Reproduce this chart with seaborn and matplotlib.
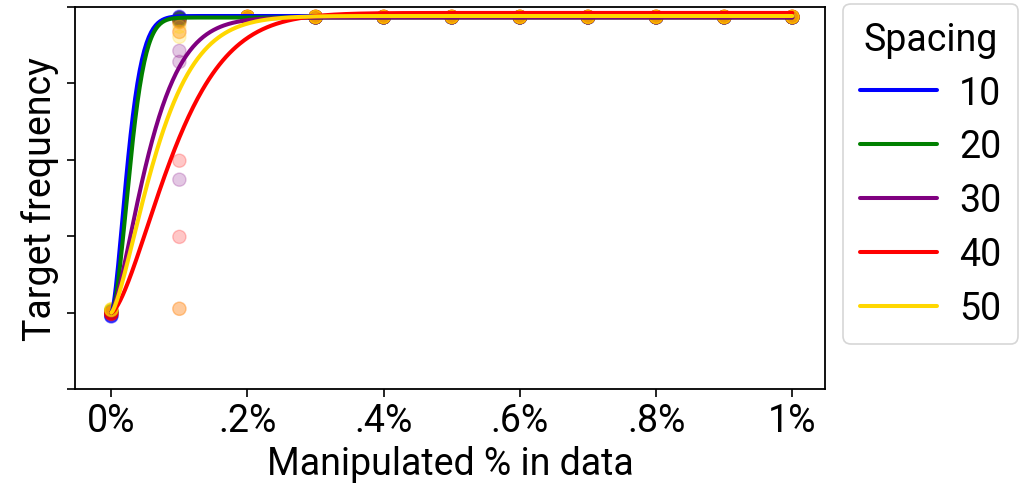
import numpy as np
import pandas as pd
import matplotlib
matplotlib.use("Agg")
import matplotlib.pyplot as plt
import seaborn as sns

sns.set_theme(style="ticks")
plt.rcParams["font.family"] = ["Roboto", "DejaVu Sans"]
plt.rcParams["text.color"] = "black"
plt.rcParams["axes.labelcolor"] = "black"
plt.rcParams["xtick.color"] = "black"
plt.rcParams["ytick.color"] = "black"

# Spacing groups and their colours
spacings = [10, 20, 30, 40, 50]
colors = ["#0000ff", "#008000", "#800080", "#ff0000", "#ffd700"]

# Manipulated fraction (in %) at which runs were evaluated
fractions = [0.0, 0.1, 0.2, 0.3, 0.4, 0.5, 0.6, 0.7, 0.8, 0.9, 1.0]

# Observed target frequency for five runs per spacing
runs_at_zero = {
    10: [-0.012, -0.010, -0.008, -0.010, -0.012],
    20: [0.005, 0.004, 0.006, 0.005, 0.004],
    30: [0.002, 0.000, 0.001, 0.002, 0.000],
    40: [-0.004, -0.002, -0.003, -0.004, -0.002],
    50: [0.010, 0.008, 0.012, 0.010, 0.009],
}
runs_at_tenth = {
    10: [0.968, 0.965, 0.962, 0.966, 0.964],
    20: [0.960, 0.958, 0.963, 0.955, 0.961],
    30: [0.965, 0.954, 0.856, 0.820, 0.435],
    40: [0.950, 0.918, 0.497, 0.248, 0.013],
    50: [0.918, 0.902, 0.935, 0.013, 0.950],
}
plateau = {10: 0.966, 20: 0.966, 30: 0.966, 40: 0.967, 50: 0.967}

# Fitted saturation curves: top * (1 - exp(-(x / scale) ** shape))
fit_top = [0.970, 0.965, 0.965, 0.980, 0.970]
fit_scale = [0.030, 0.034, 0.066, 0.109, 0.079]
fit_shape = [1.6, 1.8, 1.4, 1.5, 1.4]

xticks = [0.0, 0.2, 0.4, 0.6, 0.8, 1.0]
xticklabels = ["0%", ".2%", ".4%", ".6%", ".8%", "1%"]
yticks = [-0.25, 0.0, 0.25, 0.5, 0.75, 1.0]

# Long-form tables for seaborn
point_rows = []
for sp in spacings:
    for frac in fractions:
        if frac == 0.0:
            vals = runs_at_zero[sp]
        elif frac == 0.1:
            vals = runs_at_tenth[sp]
        else:
            vals = [plateau[sp]] * 5
        for v in vals:
            point_rows.append({"frac": frac, "freq": v, "Spacing": str(sp)})
points = pd.DataFrame(point_rows)

grid = np.linspace(0.0, 1.0, 600)
curve_rows = []
for sp, top, scale, shape in zip(spacings, fit_top, fit_scale, fit_shape):
    fitted = top * (1.0 - np.exp(-(grid / scale) ** shape))
    curve_rows.append(pd.DataFrame({"frac": grid, "freq": fitted, "Spacing": str(sp)}))
curves = pd.concat(curve_rows, ignore_index=True)

palette = dict(zip([str(s) for s in spacings], colors))

FS = 27

fig, ax = plt.subplots(figsize=(10.30, 4.89), dpi=100)
fig.subplots_adjust(left=0.073, right=0.801, top=0.984, bottom=0.202)

sns.scatterplot(data=points, x="frac", y="freq", hue="Spacing", palette=palette,
                alpha=0.22, s=90, edgecolor="face", linewidth=1.0,
                legend=False, ax=ax, zorder=2)
sns.lineplot(data=curves, x="frac", y="freq", hue="Spacing", palette=palette,
             linewidth=2.9, ax=ax, zorder=3)

ax.set_xlim(-0.053, 1.048)
ax.set_ylim(-0.25, 1.0)
ax.set_xticks(xticks)
ax.set_xticklabels(xticklabels)
ax.set_yticks(yticks)
ax.set_yticklabels([])
ax.tick_params(axis="both", labelsize=FS, length=6, width=1.2,
               colors="black", labelcolor="black")
for side in ax.spines.values():
    side.set_linewidth(1.3)
    side.set_color("black")
ax.set_xlabel("Manipulated % in data", fontsize=FS, labelpad=4, color="black")
ax.set_ylabel("Target frequency", fontsize=FS, labelpad=2, color="black")

leg = ax.legend(title="Spacing", loc="upper left", bbox_to_anchor=(1.024, 1.008),
                fontsize=FS, title_fontsize=FS, frameon=True, fancybox=True,
                handlelength=2.05, handletextpad=0.6, labelspacing=0.45,
                borderpad=0.45, borderaxespad=0.0)
leg.get_frame().set_edgecolor("#cccccc")
leg.get_frame().set_linewidth(1.2)
leg.get_title().set_color("black")
for txt in leg.get_texts():
    txt.set_color("black")
for line in leg.get_lines():
    line.set_linewidth(2.9)

fig.savefig("out.png", dpi=100)
